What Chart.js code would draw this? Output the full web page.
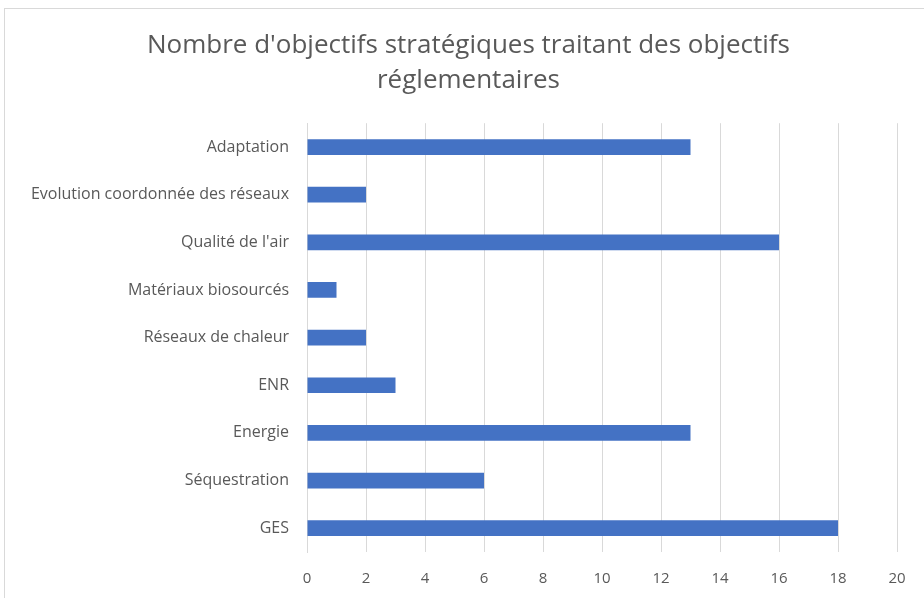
<!DOCTYPE html>
<html>
<head>
<meta charset="utf-8">
<script src="https://cdn.jsdelivr.net/npm/chart.js@4"></script>
<style>
  html, body { margin: 0; padding: 0; background: #fff; }
  #box { width: 924px; height: 598px; }
</style>
</head>
<body>
<div id="box"><canvas id="chart" width="924" height="598"></canvas></div>
<script>
// categories top to bottom, as in the picture
let categories = ["Adaptation", "Evolution coordonnée des réseaux", "Qualité de l'air", "Matériaux biosourcés",
    "Réseaux de chaleur", "ENR", "Energie", "Séquestration", "GES"];
let counts = [13, 2, 16, 1, 2, 3, 13, 6, 18];
let xTicks = [0, 2, 4, 6, 8, 10, 12, 14, 16, 18, 20];
let titleLines = ["Nombre d'objectifs stratégiques traitant des objectifs", "réglementaires"];

// light frame round the chart area, and title centred a bit to the right
const framePlugin = {
    id: 'frame',
    afterLayout(chart) {
        // title box starts at x=40 so its centre sits where the reference has it
        if (chart.titleBlock) chart.titleBlock.left = 40;
    },
    beforeDraw(chart) {
        const ctx = chart.ctx;
        ctx.save();
        ctx.strokeStyle = '#d9d9d9';
        ctx.lineWidth = 1;
        ctx.strokeRect(4.5, 8.5, 1000, 1000);
        ctx.restore();
    }
};

const chart = new Chart("chart", {
    type: 'bar',
    data: {
        labels: categories,
        datasets: [{
            data: counts,
            backgroundColor: '#4472c4',
            borderWidth: 0,
            categoryPercentage: 1,
            barPercentage: 0.33
        }]
    },
    options: {
        indexAxis: 'y',
        responsive: false,
        animation: false,
        layout: { padding: { left: 0, right: 27, top: 28, bottom: 0 } },
        scales: {
            x: {
                min: 0,
                max: 20,
                afterBuildTicks: (scale) => { scale.ticks = xTicks.map(v => ({value: v})); },
                grid: { color: '#d9d9d9', drawTicks: true, tickLength: 0 },
                border: { display: false },
                ticks: {
                    color: '#595959',
                    padding: 18,
                    font: { family: 'Open Sans', size: 15 }
                },
                afterFit: (scale) => { scale.height = 46; }
            },
            y: {
                grid: { display: false },
                border: { display: true, color: '#d9d9d9' },
                ticks: {
                    color: '#595959',
                    padding: 10,
                    font: { family: 'Open Sans', size: 16 }
                },
                afterFit: (scale) => { scale.width = 307; }
            }
        },
        plugins: {
            legend: { display: false },
            tooltip: { enabled: false },
            title: {
                display: true,
                text: titleLines,
                color: '#595959',
                font: { family: 'Open Sans', size: 26, weight: 'normal', lineHeight: 1.35 },
                padding: { top: 0, bottom: 25 }
            }
        }
    },
    plugins: [framePlugin]
});
</script>
</body>
</html>
